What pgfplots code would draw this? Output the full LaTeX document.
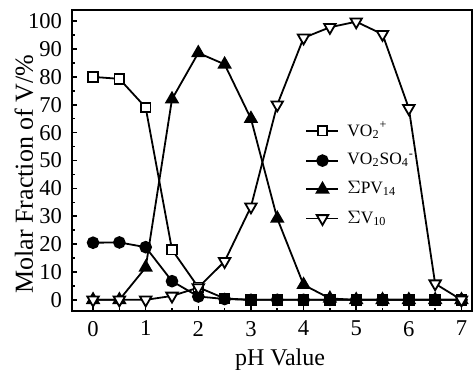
\documentclass[border=0pt]{standalone}
\usepackage{fontspec}
\setmainfont{Liberation Serif}
\usepackage{pgfplots}
\pgfplotsset{compat=1.18}
\begin{document}
\begin{tikzpicture}
\begin{axis}[
  scale only axis,
  width=200pt, height=150.5pt,
  xmin=-0.4, xmax=7.2, ymin=-4, ymax=104,
  xtick={0,1,...,7}, ytick={0,10,...,100},
  minor x tick num=1, minor y tick num=1,
  tick pos=left,
  tick align=inside,
  major tick length=2.5pt, minor tick length=1.5pt,
  every tick/.style={line width=0.8pt},
  axis line style={line width=1.1pt},
  /pgf/number format/assume math mode=true,
  ticklabel style={font=\fontsize{11.3}{12}\selectfont},
  xticklabel style={yshift=-1.5pt},
  yticklabel style={xshift=-1.5pt},
  xlabel={pH Value},
  ylabel={Molar Fraction of V/\%},
  xlabel style={font=\fontsize{12}{13}\selectfont, at={(axis description cs:0.52,0)}, anchor=base, yshift=-27.5pt},
  ylabel style={font=\fontsize{13}{14}\selectfont, at={(axis description cs:-0.12,0.455)}, anchor=center},
  legend style={draw=none, fill=none, at={(axis description cs:0.583,0.455)}, anchor=west,
     font=\fontsize{8.7}{10}\selectfont, row sep=2.9pt, inner sep=0pt,
     /tikz/every odd column/.append style={column sep=2pt}},
  legend cell align=left,
  legend image code/.code={\draw[mark repeat=2, mark phase=2, #1] plot coordinates {(0pt,0pt) (8pt,0pt) (16pt,0pt)};},
  every axis plot/.append style={line width=0.9pt, mark options={solid, line width=0.8pt}},
]
\addplot[black, mark=square*, mark size=2.4pt, mark options={fill=white}] coordinates {
(0,80) (0.5,79.3) (1,69) (1.5,18) (2,4.5) (2.5,0.5) (3,0) (3.5,0) (4,0) (4.5,0) (5,0) (5.5,0) (6,0) (6.5,0) (7,0)};
\addlegendentry{VO\textsubscript{2}\textsuperscript{+}}
\addplot[black, mark=*, mark size=2.7pt, mark options={fill=black}] coordinates {
(0,20.5) (0.5,20.6) (1,18.9) (1.5,6.7) (2,1.2) (2.5,0.3) (3,0) (3.5,0) (4,0) (4.5,0) (5,0) (5.5,0) (6,0) (6.5,0) (7,0)};
\addlegendentry{VO\textsubscript{2}SO\textsubscript{4}\textsuperscript{-}}
\addplot[black, mark=triangle*, mark size=3.3pt, mark options={fill=black}] coordinates {
(0,0) (0.5,0) (1,11.6) (1.5,72) (2,88.6) (2.5,84.5) (3,65) (3.5,29.2) (4,5.4) (4.5,0.5) (5,0) (5.5,0) (6,0) (6.5,0) (7,0)};
\addlegendentry{$\Sigma$PV\textsubscript{14}}
\addplot[black, mark=triangle*, mark size=3.3pt, mark options={fill=white, rotate=180}] coordinates {
(0,0) (0.5,0) (1,0) (1.5,1.4) (2,4.4) (2.5,13.8) (3,33.4) (3.5,70) (4,94) (4.5,97.8) (5,99.8) (5.5,95.3) (6,68.7) (6.5,5.8) (7,0)};
\addlegendentry{$\Sigma$V\textsubscript{10}}
\end{axis}
\pgfresetboundingbox
\path[use as bounding box] ([shift={(-36pt,-29.5pt)}]current axis.south west) rectangle ([shift={(200.5pt,155.5pt)}]current axis.south west);
\end{tikzpicture}
\end{document}
